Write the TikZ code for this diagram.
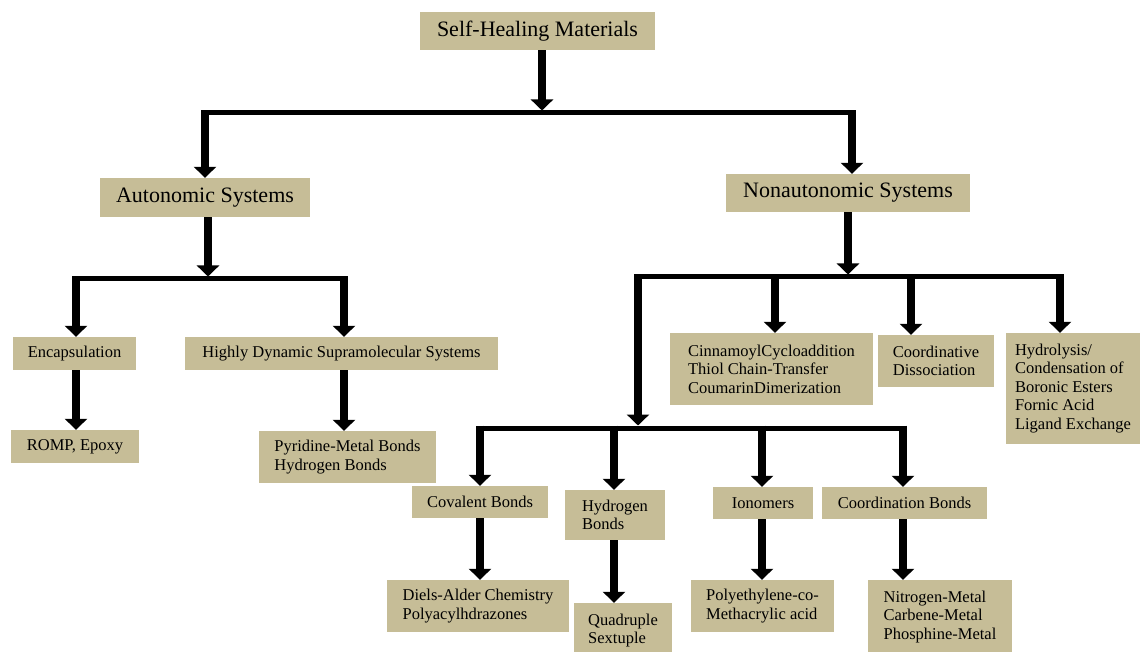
\documentclass[tikz,border=0pt]{standalone}
\usepackage{fontspec}
\setmainfont{Liberation Serif}
\usetikzlibrary{arrows.meta}
\definecolor{boxfill}{HTML}{C6BD97}

\begin{document}
\begin{tikzpicture}[x=1pt, y=-1pt,
    box/.style={fill=boxfill, inner sep=0pt, align=left, font=\fontsize{16.5}{18.5}\selectfont},
    bigbox/.style={box, font=\fontsize{22}{26}\selectfont},
    bar/.style={line width=5pt},
    arr/.style={line width=8.5pt, -{Triangle[width=22pt,length=11pt]}},
    tobar/.style={arr, shorten >=2.5pt}]
    \useasboundingbox (0,0) rectangle (1140,652);

    % Nodes
    \node[bigbox, minimum width=235pt, minimum height=38pt] (top) at (537.5,31) {Self-Healing Materials};
    \node[bigbox, minimum width=210pt, minimum height=39pt] (auto) at (205,197.5) {Autonomic Systems};
    \node[bigbox, minimum width=244pt, minimum height=38pt] (non) at (848,193) {Nonautonomic Systems};

    \node[box, minimum width=123pt, minimum height=33pt] (enc) at (74.5,353.5) {Encapsulation};
    \node[box, minimum width=313pt, minimum height=33pt] (hds) at (341.5,353.5) {Highly Dynamic Supramolecular Systems};
    \node[box, minimum width=128pt, minimum height=33pt] (romp) at (75,446.5) {ROMP, Epoxy};
    \node[box, minimum width=177pt, minimum height=52pt] (pyr) at (347.5,457) {Pyridine-Metal Bonds\\Hydrogen Bonds};

    \node[box, minimum width=203pt, minimum height=72pt] (cinn) at (771.5,369) {CinnamoylCycloaddition\\Thiol Chain-Transfer\\CoumarinDimerization};
    \node[box, minimum width=116pt, minimum height=52pt] (codis) at (936,361) {Coordinative\\Dissociation};
    \node[box, minimum width=134pt, minimum height=111pt] (hydro) at (1073,388.5) {Hydrolysis/\\Condensation of\\Boronic Esters\\Fornic Acid\\Ligand Exchange};

    \node[box, minimum width=136pt, minimum height=32pt] (cov) at (480,502) {Covalent Bonds};
    \node[box, minimum width=100pt, minimum height=50pt] (hyd) at (615,515) {Hydrogen\\Bonds};
    \node[box, minimum width=100pt, minimum height=32pt] (iono) at (763,503) {Ionomers};
    \node[box, minimum width=165pt, minimum height=32pt] (coord) at (904.5,503) {Coordination Bonds};

    \node[box, minimum width=182pt, minimum height=52pt] (diels) at (478,606) {Diels-Alder Chemistry\\Polyacylhdrazones};
    \node[box, minimum width=98pt, minimum height=55pt] (quad) at (623,630.5) {Quadruple\\Sextuple};
    \node[box, minimum width=143pt, minimum height=52pt] (poly) at (762.5,606) {Polyethylene-co-\\Methacrylic acid};
    \node[box, minimum width=144pt, minimum height=74pt] (nitro) at (940,617) {Nitrogen-Metal\\Carbene-Metal\\Phosphine-Metal};

    % Bar hubs and columns
    \coordinate (b1) at (542,113);
    \coordinate (b1l) at (205,113);
    \coordinate (b1r) at (852,113);
    \coordinate (b2) at (208,279);
    \coordinate (b2l) at (76,279);
    \coordinate (b2r) at (344,279);
    \coordinate (b3) at (848,277);
    \coordinate (b3l) at (638,277);
    \coordinate (b3a) at (775,277);
    \coordinate (b3b) at (911,277);
    \coordinate (b3c) at (1060,277);
    \coordinate (b4) at (638,428);
    \coordinate (b4a) at (480,428);
    \coordinate (b4b) at (614,428);
    \coordinate (b4c) at (762,428);
    \coordinate (b4d) at (903,428);

    % Top level
    \draw[tobar] (b1 |- top.south) -- (b1);
    \draw[bar] (b1l) -- (b1r);
    \draw[arr] ([yshift=2.5pt]b1l) -- (b1l |- auto.north);
    \draw[arr] ([yshift=2.5pt]b1r) -- (b1r |- non.north);

    % Autonomic branch
    \draw[tobar] (b2 |- auto.south) -- (b2);
    \draw[bar] (b2l) -- (b2r);
    \draw[arr] ([yshift=2.5pt]b2l) -- (b2l |- enc.north);
    \draw[arr] ([yshift=2.5pt]b2r) -- (b2r |- hds.north);
    \draw[arr] (b2l |- enc.south) -- (b2l |- romp.north);
    \draw[arr] (b2r |- hds.south) -- (b2r |- pyr.north);

    % Nonautonomic branch
    \draw[tobar] (b3 |- non.south) -- (b3);
    \draw[bar] (b3l) -- (b3c);
    \draw[arr] ([yshift=2.5pt]b3a) -- (b3a |- cinn.north);
    \draw[arr] ([yshift=2.5pt]b3b) -- (b3b |- codis.north);
    \draw[arr] ([yshift=2.5pt]b3c) -- (b3c |- hydro.north);
    \draw[tobar] ([yshift=2.5pt]b3l) -- (b4);

    % Lower bar
    \draw[bar] (b4a) -- (b4d);
    \draw[arr] ([yshift=2.5pt]b4a) -- (b4a |- cov.north);
    \draw[arr] ([yshift=2.5pt]b4b) -- (b4b |- hyd.north);
    \draw[arr] ([yshift=2.5pt]b4c) -- (b4c |- iono.north);
    \draw[arr] ([yshift=2.5pt]b4d) -- (b4d |- coord.north);

    % Leaves
    \draw[arr] (b4a |- cov.south) -- (b4a |- diels.north);
    \draw[arr] (b4b |- hyd.south) -- (b4b |- quad.north);
    \draw[arr] (b4c |- iono.south) -- (b4c |- poly.north);
    \draw[arr] (b4d |- coord.south) -- (b4d |- nitro.north);
\end{tikzpicture}
\end{document}
